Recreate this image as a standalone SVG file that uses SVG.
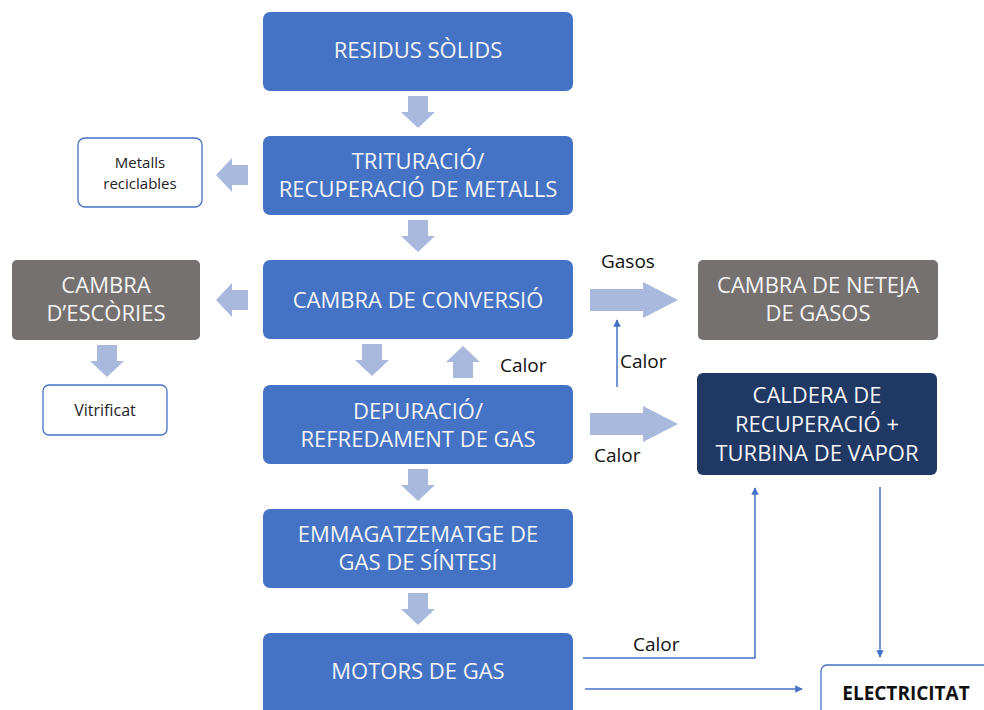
<svg xmlns="http://www.w3.org/2000/svg" width="984" height="710" viewBox="0 0 984 710">
<defs>
<style>
.blue{fill:#4472C4}
.gray{fill:#767171}
.navy{fill:#203864}
.wbox{fill:#ffffff;stroke:#4472C4;stroke-width:1.3}
.t{font-family:"Open Sans","Noto Sans",sans-serif;font-size:22px;fill:#f4f4f4;text-anchor:middle}
.s{font-family:"Open Sans","Noto Sans",sans-serif;font-size:16px;fill:#222;text-anchor:middle}
.m{font-family:"Open Sans","Noto Sans",sans-serif;font-size:15px;fill:#222;text-anchor:middle}
.l{font-family:"Open Sans","Noto Sans",sans-serif;font-size:19px;fill:#111}
.b{font-family:"Open Sans","Noto Sans",sans-serif;font-size:19px;font-weight:bold;fill:#111;text-anchor:middle}
.fat{fill:#A9B9DE}
.thin{fill:none;stroke:#4472C4;stroke-width:1.5}
</style>
<path id="down" d="M-10,0 H10 V16 H17 L0,32 L-17,16 H-10 Z"/>
<path id="right" d="M0,-11 H53 V-18 L88,0 L53,18 V11 H0 Z"/>
<marker id="ah" viewBox="0 0 10 10" refX="9" refY="5" markerWidth="5" markerHeight="5" orient="auto" markerUnits="strokeWidth">
<path d="M0,0 L10,5 L0,10 Z" fill="#4472C4"/>
</marker>
</defs>
<rect width="984" height="710" fill="#ffffff"/>

<g id="connectors">
<use href="#down" class="fat" transform="translate(418,96)"/>
<use href="#down" class="fat" transform="translate(418,220)"/>
<use href="#down" class="fat" transform="translate(372,344)"/>
<use href="#down" class="fat" transform="translate(463,378) scale(1,-1)"/>
<use href="#down" class="fat" transform="translate(418,469)"/>
<use href="#down" class="fat" transform="translate(418,593)"/>
<use href="#down" class="fat" transform="translate(107,345)"/>
<use href="#down" class="fat" transform="translate(248,175) rotate(90)"/>
<use href="#down" class="fat" transform="translate(248,300) rotate(90)"/>
<use href="#right" class="fat" transform="translate(590,300)"/>
<use href="#right" class="fat" transform="translate(590,424)"/>
<path class="thin" d="M617,387 V320" marker-end="url(#ah)"/>
<path class="thin" d="M583,658 H755 V488" marker-end="url(#ah)"/>
<path class="thin" d="M585,689 H802" marker-end="url(#ah)"/>
<path class="thin" d="M880,487 V657" marker-end="url(#ah)"/>
<text class="l" x="601" y="268">Gasos</text>
<text class="l" x="500" y="372">Calor</text>
<text class="l" x="620" y="368">Calor</text>
<text class="l" x="594" y="462">Calor</text>
<text class="l" x="633" y="651">Calor</text>
</g>

<g id="residus">
<rect class="blue" x="263" y="12" width="310" height="79" rx="7"/>
<text class="t" x="418" y="58">RESIDUS SÒLIDS</text>
</g>
<g id="trituracio">
<rect class="blue" x="263" y="136" width="310" height="79" rx="7"/>
<text class="t" x="418" y="169">TRITURACIÓ/</text>
<text class="t" x="418" y="197">RECUPERACIÓ DE METALLS</text>
</g>
<g id="conversio">
<rect class="blue" x="263" y="260" width="310" height="79" rx="7"/>
<text class="t" x="418" y="308">CAMBRA DE CONVERSIÓ</text>
</g>
<g id="depuracio">
<rect class="blue" x="263" y="385" width="310" height="79" rx="7"/>
<text class="t" x="418" y="419">DEPURACIÓ/</text>
<text class="t" x="418" y="447">REFREDAMENT DE GAS</text>
</g>
<g id="emmagatzematge">
<rect class="blue" x="263" y="509" width="310" height="79" rx="7"/>
<text class="t" x="418" y="542">EMMAGATZEMATGE DE</text>
<text class="t" x="418" y="570">GAS DE SÍNTESI</text>
</g>
<g id="motors">
<rect class="blue" x="263" y="633" width="310" height="85" rx="7"/>
<text class="t" x="418" y="679">MOTORS DE GAS</text>
</g>
<g id="metalls">
<rect class="wbox" x="78" y="138" width="124" height="69" rx="7"/>
<text class="m" x="140" y="168">Metalls</text>
<text class="m" x="140" y="189">reciclables</text>
</g>
<g id="escories">
<rect class="gray" x="12" y="260" width="188" height="80" rx="5"/>
<text class="t" x="106" y="293">CAMBRA</text>
<text class="t" x="106" y="321">D’ESCÒRIES</text>
</g>
<g id="vitrificat">
<rect class="wbox" x="43" y="385" width="124" height="50" rx="6"/>
<text class="s" x="105" y="416">Vitrificat</text>
</g>
<g id="neteja">
<rect class="gray" x="698" y="260" width="240" height="80" rx="5"/>
<text class="t" x="818" y="293">CAMBRA DE NETEJA</text>
<text class="t" x="818" y="321">DE GASOS</text>
</g>
<g id="caldera">
<rect class="navy" x="697" y="373" width="240" height="102" rx="6"/>
<text class="t" x="817" y="403">CALDERA DE</text>
<text class="t" x="817" y="432">RECUPERACIÓ +</text>
<text class="t" x="817" y="461">TURBINA DE VAPOR</text>
</g>
<g id="electricitat">
<rect class="wbox" x="821" y="665" width="180" height="60" rx="6"/>
<text class="b" x="906" y="700">ELECTRICITAT</text>
</g>
</svg>
